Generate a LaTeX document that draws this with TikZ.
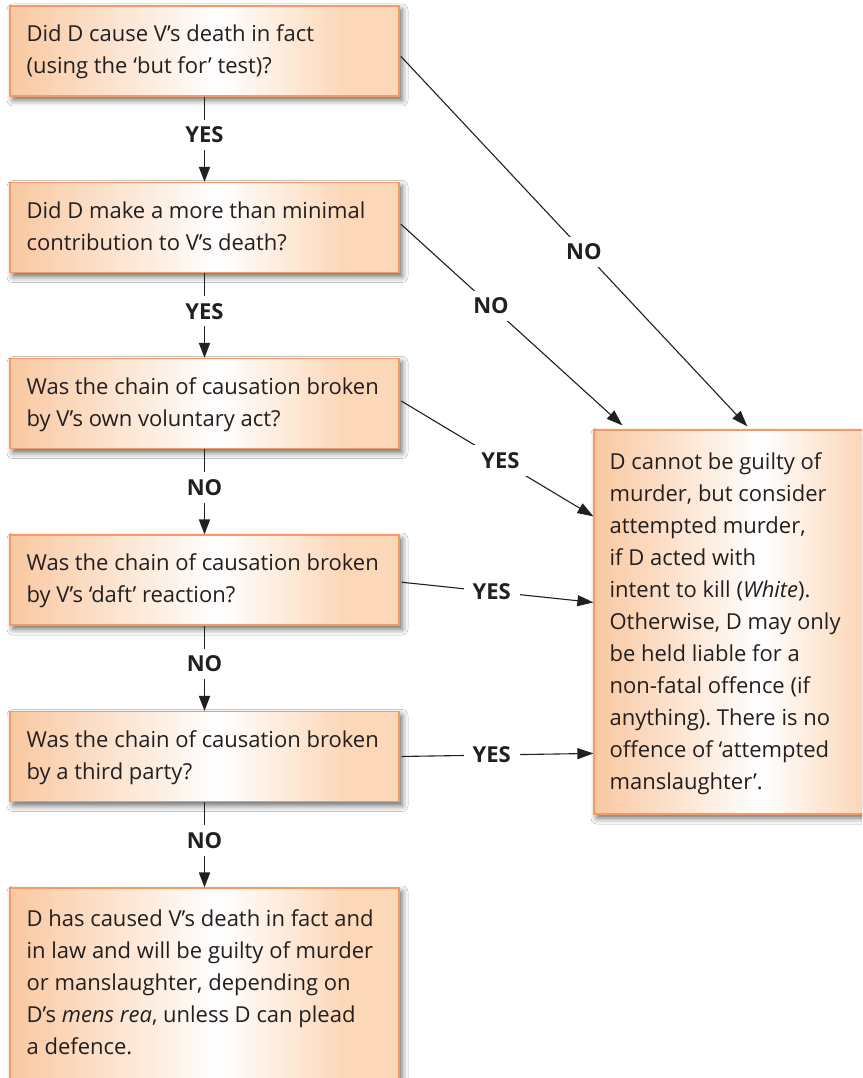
\documentclass[tikz,border=0pt]{standalone}
\usepackage{fontspec}
\setmainfont{Open Sans}
\usetikzlibrary{arrows.meta,shadows.blur}

\definecolor{ink}{HTML}{231F20}
\definecolor{boxline}{HTML}{F59A62}
\definecolor{peachL}{HTML}{F9C8A1}
\definecolor{peachR}{HTML}{FCD7B8}

% peach -> white -> peach fill of the boxes
\pgfdeclarehorizontalshading{peach}{100bp}{color(0bp)=(peachL); color(25bp)=(peachL); color(52bp)=(white); color(68bp)=(peachR); color(100bp)=(peachR)}

% fixes the height of the first text line so that baselines can be placed exactly
\newcommand\lineonestrut{\rule{0pt}{20pt}}

\tikzset{
  qbox/.style={draw=boxline, line width=1.2pt, shade, shading=peach,
    blur shadow={shadow xshift=3pt, shadow yshift=-4pt, shadow blur radius=6pt, shadow opacity=60},
    minimum width=389pt, minimum height=90pt, inner sep=0pt},
  qtext/.style={anchor=north west, align=left, inner sep=0pt, text=ink,
    font=\fontsize{22}{32}\selectfont},
  lbl/.style={fill=white, text=ink, font=\fontsize{22}{24}\selectfont\bfseries,
    inner xsep=9pt, inner ysep=7pt},
  down/.style={draw=ink, line width=1.8pt, -{Triangle[length=15pt,width=11pt]}},
  side/.style={draw=ink, line width=1.1pt, shorten <=2pt, -{Triangle[length=16pt,width=11pt]}},
}

\begin{document}
\frenchspacing
\begin{tikzpicture}[x=1pt, y=-1pt]
  \useasboundingbox (0,0) rectangle (862,1078);
  \fill[white] (0,0) rectangle (862,1078);
  \clip (0,0) rectangle (862,1078);

  % question boxes in the left column
  \node[qbox] (q1) at (204.5,51) {};
  \node[qbox] (q2) at (204.5,227.5) {};
  \node[qbox] (q3) at (204.5,403.5) {};
  \node[qbox] (q4) at (204.5,580) {};
  \node[qbox] (q5) at (204.5,756.5) {};
  \node[qbox, minimum height=212pt] (q6) at (204.5,994) {};
  % outcome box on the right
  \node[qbox, minimum width=311pt, minimum height=384pt] (res) at (749.5,622) {};

  % box texts
  \node[qtext] (q1t) at ([xshift=17pt,yshift=-16pt]q1.north west)
    {\lineonestrut Did D cause V’s death in fact\\(using the ‘but for’ test)?};
  \node[qtext] (q2t) at ([xshift=17pt,yshift=-16pt]q2.north west)
    {\lineonestrut Did D make a more than minimal\\contribution to V’s death?};
  \node[qtext] (q3t) at ([xshift=17pt,yshift=-16pt]q3.north west)
    {\lineonestrut Was the chain of causation broken\\by V’s own voluntary act?};
  \node[qtext] (q4t) at ([xshift=17pt,yshift=-16pt]q4.north west)
    {\lineonestrut Was the chain of causation broken\\by V’s ‘daft’ reaction?};
  \node[qtext] (q5t) at ([xshift=17pt,yshift=-16pt]q5.north west)
    {\lineonestrut Was the chain of causation broken\\by a third party?};
  \node[qtext] (q6t) at ([xshift=17pt,yshift=-18.5pt]q6.north west)
    {\lineonestrut D has caused V’s death in fact and\\in law and will be guilty of murder\\or manslaughter, depending on\\D’s \textit{mens rea}, unless D can plead\\a defence.};
  \node[qtext] (rest) at ([xshift=16pt,yshift=-19.5pt]res.north west)
    {\lineonestrut D cannot be guilty of\\murder, but consider\\attempted murder,\\if D acted with\\intent to kill (\textit{White}).\\Otherwise, D may only\\be held liable for a\\non-fatal offence (if\\anything). There is no\\offence of ‘attempted\\manslaughter’.};

  % downward chain
  \draw[down] (q1) -- node[lbl, pos=0.45] (l1) {YES} (q2);
  \draw[down] (q2) -- node[lbl, pos=0.45] (l2) {YES} (q3);
  \draw[down] (q3) -- node[lbl, pos=0.45] (l3) {NO} (q4);
  \draw[down] (q4) -- node[lbl, pos=0.45] (l4) {NO} (q5);
  \draw[down] (q5) -- node[lbl, pos=0.45] (l5) {NO} (q6);

  % branches to the outcome box
  \draw[side] ([yshift=-4pt]q1.east) -- node[lbl, pos=0.53] (r1) {NO}
    ([xshift=154pt,yshift=3pt]res.north west);
  \draw[side] ([yshift=4.5pt]q2.east) -- node[lbl, pos=0.41] (r2) {NO}
    ([xshift=29pt,yshift=4pt]res.north west);
  \draw[side] ([yshift=3.5pt]q3.east) -- node[lbl, pos=0.52] (r3) {YES}
    ([yshift=-87pt]res.north west);
  \draw[side] ([yshift=-2pt]q4.east) -- node[lbl, pos=0.475] (r4) {YES}
    ([yshift=-173pt]res.north west);
  \draw[side] (q5.east) -- node[lbl, pos=0.475] (r5) {YES}
    ([yshift=-324pt]res.north west);
\end{tikzpicture}
\end{document}
